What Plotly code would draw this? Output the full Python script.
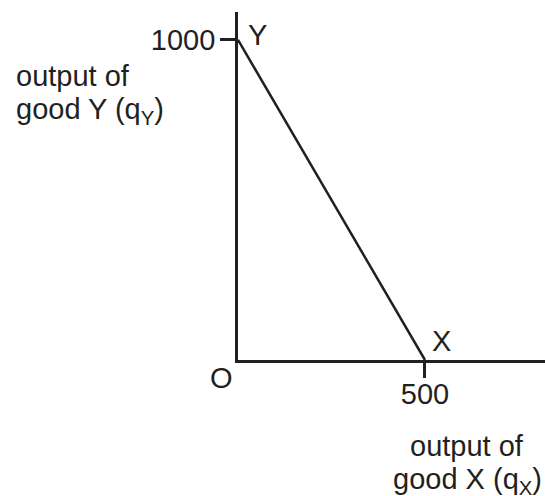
import plotly.graph_objects as go

# Data
x_intercept = 500      # max output of good X
y_intercept = 1000     # max output of good Y
ppf_x = [0, x_intercept]
ppf_y = [y_intercept, 0]
x_ticks = [500]
y_ticks = [1000]
x_range = [0, 821]
y_range = [0, 1087]

INK = "#231F20"
FONT = "Liberation Sans, Arial, Helvetica, sans-serif"
FS = 29

W, H = 545, 496
L, T = 238, 12
B = 136
PW, PH = W - L, H - T - B

def px(x):
    return (x - L) / PW

def py(y):
    return (H - B - y) / PH

fig = go.Figure()
fig.add_trace(go.Scatter(x=ppf_x, y=ppf_y, mode="lines",
                         line=dict(color=INK, width=2.5), hoverinfo="skip",
                         showlegend=False, cliponaxis=False))

annos = [
    ("O", 221, 378, "center"),
    ("Y", 257, 35, "center"),
    ("X", 441, 341, "center"),
]
ann = []
for t, x, y, a in annos:
    ann.append(dict(text=t, x=px(x), y=py(y), xref="paper", yref="paper",
                    xanchor=a, yanchor="middle", showarrow=False,
                    font=dict(size=FS, color=INK, family=FONT)))
lines = [
    ("output of", 14, 76, "left"),
    ("good Y (q<sub>Y</sub>)", 14, 111, "left"),
    ("output of", 467, 446, "center"),
    ("good X (q<sub>X</sub>)", 467, 481, "center"),
]
for t, x, y, a in lines:
    ann.append(dict(text=t, x=px(x), y=py(y), xref="paper", yref="paper",
                    xanchor=a, yanchor="middle", showarrow=False,
                    font=dict(size=FS, color=INK, family=FONT)))

fig.update_layout(
    width=W, height=H,
    margin=dict(l=L, r=0, t=T, b=B, pad=0),
    plot_bgcolor="white", paper_bgcolor="white",
    font=dict(family=FONT, size=FS, color=INK),
    annotations=ann,
    xaxis=dict(range=x_range, showgrid=False, zeroline=False, showline=True,
               linecolor=INK, linewidth=2.8, ticks="outside", ticklen=15,
               tickwidth=2.6, tickcolor=INK, tickvals=x_ticks,
               ticktext=[str(v) for v in x_ticks], ticklabelstandoff=-9,
               tickfont=dict(size=FS, color=INK, family=FONT), fixedrange=True),
    yaxis=dict(range=y_range, showgrid=False, zeroline=False, showline=True,
               linecolor=INK, linewidth=2.8, ticks="outside", ticklen=15,
               tickwidth=2.6, tickcolor=INK, tickvals=y_ticks,
               ticktext=[str(v) for v in y_ticks], ticklabelstandoff=-1,
               tickfont=dict(size=FS, color=INK, family=FONT), fixedrange=True),
)
fig.write_html("out.html", config={"displayModeBar": False},
               post_script="document.body.style.margin='0';document.body.style.overflow='hidden';")
